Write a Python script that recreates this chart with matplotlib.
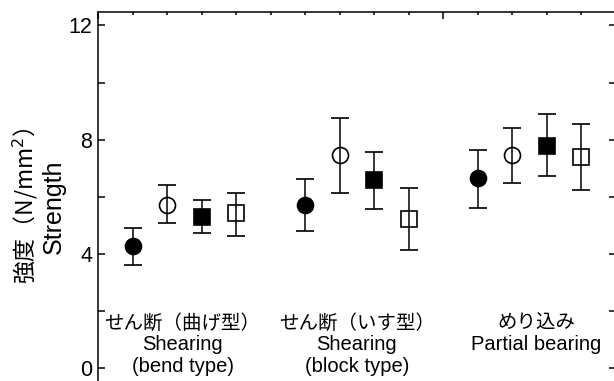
import matplotlib
matplotlib.use("Agg")
import matplotlib.pyplot as plt
from matplotlib.ticker import MultipleLocator

plt.rcParams['font.family'] = ['Liberation Sans', 'Noto Sans CJK JP', 'DejaVu Sans']

# four specimen types per failure mode, positions on the x scale
xpos = [[1, 2, 3, 4], [6, 7, 8, 9], [11, 12, 13, 14]]
mean = [[4.28, 5.72, 5.30, 5.44],
        [5.72, 7.47, 6.60, 5.23],
        [6.67, 7.47, 7.79, 7.40]]
upper = [[4.91, 6.42, 5.89, 6.14],
         [6.63, 8.77, 7.58, 6.32],
         [7.65, 8.42, 8.88, 8.56]]
lower = [[3.61, 5.09, 4.74, 4.63],
         [4.81, 6.14, 5.58, 4.14],
         [5.61, 6.49, 6.74, 6.25]]
markers = ['o', 'o', 's', 's']
filled = [True, False, True, False]

group_jp = ['せん断（曲げ型）', 'せん断（いす型）', 'めり込み']
group_en = [['Shearing', '(bend type)'], ['Shearing', '(block type)'], ['Partial bearing', '']]
label_x = [2.45, 7.5, 12.7]

fig = plt.figure(figsize=(6.14, 3.81), dpi=100)
# the plot frame runs off the bottom and right edges of the picture
ax = fig.add_axes([98 / 614, -1.5 / 381, 517.5 / 614, 370.5 / 381])

for g in range(3):
    for k in range(4):
        m = mean[g][k]
        err = [[m - lower[g][k]], [upper[g][k] - m]]
        ax.errorbar(xpos[g][k], m, yerr=err, fmt=markers[k], ms=11.5,
                    mfc='black' if filled[k] else 'none', mec='black', mew=1.2,
                    ecolor='black', elinewidth=1.1, capsize=6.5, capthick=1.1,
                    color='black')

for g in range(3):
    ax.text(label_x[g], 1.58, group_jp[g], ha='center', va='center', fontsize=14,
            family=['Noto Sans CJK JP', 'DejaVu Sans'])
    ax.text(label_x[g], 0.82, group_en[g][0], ha='center', va='center', fontsize=14.5)
    ax.text(label_x[g], 0.05, group_en[g][1], ha='center', va='center', fontsize=14.5)

ax.set_xlim(0, 15)
ax.set_ylim(-0.51, 12.47)
ax.xaxis.set_major_locator(MultipleLocator(10))
ax.xaxis.set_minor_locator(MultipleLocator(1))
ax.yaxis.set_major_locator(MultipleLocator(4))
ax.yaxis.set_minor_locator(MultipleLocator(2))
ax.tick_params(axis='x', which='both', direction='in', top=True, bottom=False,
               labelbottom=False, width=1.1)
ax.tick_params(axis='x', which='major', length=5)
ax.tick_params(axis='x', which='minor', length=2.5)
ax.tick_params(axis='y', which='both', direction='in', left=True, right=True,
               length=5, width=1.1, labelsize=15.5, pad=4)
for s in ax.spines.values():
    s.set_linewidth(1.1)
ax.spines['bottom'].set_color('#bbbbbb')

fig.text(25 / 614, 1 - 206 / 381, '強度（N/mm$^2$）', rotation=90, ha='center', va='center',
         fontsize=16.5, family=['Noto Sans CJK JP', 'DejaVu Sans'])
fig.text(54 / 614, 1 - 207 / 381, 'Strength', rotation=90, ha='center', va='center',
         fontsize=18)

fig.savefig('out.png', dpi=100)
